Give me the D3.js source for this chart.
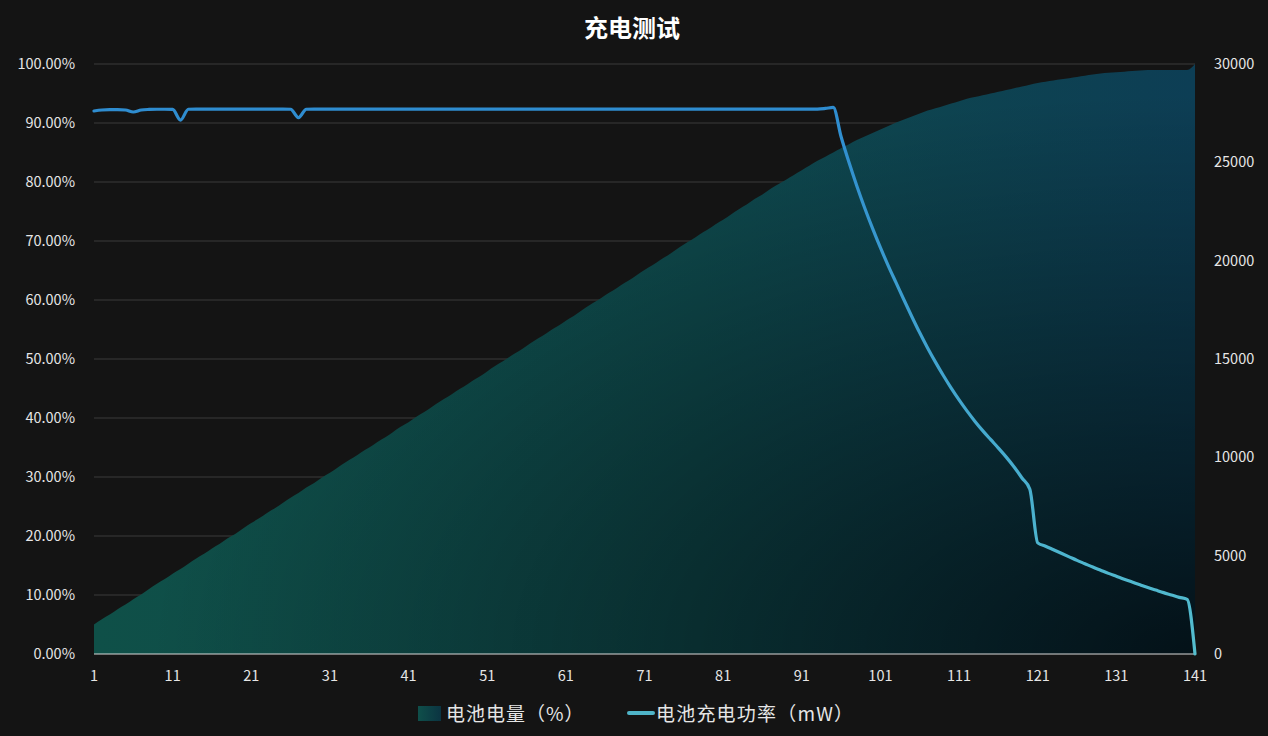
<!DOCTYPE html>
<html>
<head>
<meta charset="utf-8">
<script src="https://cdn.jsdelivr.net/npm/d3@7"></script>
<style>
  html, body { margin: 0; padding: 0; background: #141414; }
  svg { display: block; }
  text { font-family: "Noto Sans CJK SC", "Noto Sans", sans-serif; }
</style>
</head>
<body>
<svg id="chart" width="1268" height="736"></svg>
<script>
// ---------- data ----------
const title = "充电测试";
const seriesNames = ["电池电量（%）", "电池充电功率（mW）"];
const categories = d3.range(1, 142);          // x categories 1..141
const xTickLabels = [1, 11, 21, 31, 41, 51, 61, 71, 81, 91, 101, 111, 121, 131, 141];
const leftTicks = [0, 10, 20, 30, 40, 50, 60, 70, 80, 90, 100];
const rightTicks = [0, 5000, 10000, 15000, 20000, 25000, 30000];

// battery level (%) per category
const batteryLevel = [
  5.0, 5.9, 6.7, 7.6, 8.4, 9.3, 10.1, 11.0, 11.9, 12.7,
  13.6, 14.4, 15.3, 16.2, 17.0, 17.9, 18.7, 19.6, 20.4, 21.3,
  22.2, 23.0, 23.9, 24.7, 25.6, 26.5, 27.3, 28.2, 29.0, 29.9,
  30.7, 31.6, 32.5, 33.3, 34.2, 35.0, 35.9, 36.7, 37.6, 38.5,
  39.3, 40.2, 41.0, 41.9, 42.8, 43.6, 44.5, 45.3, 46.2, 47.0,
  47.9, 48.8, 49.6, 50.5, 51.3, 52.2, 53.1, 53.9, 54.8, 55.6,
  56.5, 57.3, 58.2, 59.1, 59.9, 60.8, 61.6, 62.5, 63.3, 64.2,
  65.1, 65.9, 66.8, 67.6, 68.5, 69.4, 70.2, 71.1, 71.9, 72.8,
  73.6, 74.5, 75.4, 76.2, 77.1, 77.9, 78.8, 79.6, 80.4, 81.2,
  82.0, 82.8, 83.6, 84.3, 85.0, 85.7, 86.4, 87.1, 87.7, 88.3,
  88.9, 89.5, 90.1, 90.6, 91.1, 91.6, 92.1, 92.5, 92.9, 93.3,
  93.7, 94.1, 94.4, 94.7, 95.0, 95.3, 95.6, 95.9, 96.2, 96.5,
  96.8, 97.0, 97.2, 97.4, 97.6, 97.8, 98.0, 98.2, 98.4, 98.5,
  98.6, 98.7, 98.8, 98.9, 99.0, 99.0, 99.0, 99.0, 99.0, 99.0,
  100.0
];

// charging power (mW) per category
const chargePower = [
  27610, 27660, 27680, 27680, 27660, 27560, 27660, 27690, 27700, 27700,
  27690, 27150, 27700, 27710, 27710, 27710, 27710, 27710, 27710, 27710,
  27710, 27710, 27710, 27710, 27710, 27700, 27270, 27700, 27710, 27710,
  27710, 27710, 27710, 27710, 27710, 27710, 27710, 27710, 27710, 27710,
  27710, 27710, 27710, 27710, 27710, 27710, 27710, 27710, 27710, 27710,
  27710, 27710, 27710, 27710, 27710, 27710, 27710, 27710, 27710, 27710,
  27710, 27710, 27710, 27710, 27710, 27710, 27710, 27710, 27710, 27710,
  27710, 27710, 27710, 27710, 27710, 27710, 27710, 27710, 27710, 27710,
  27710, 27710, 27710, 27710, 27710, 27710, 27710, 27710, 27710, 27710,
  27710, 27710, 27710, 27740, 27790, 26300, 25000, 23800, 22680, 21640,
  20660, 19740, 18870, 18000, 17150, 16330, 15560, 14840, 14160, 13520,
  12920, 12360, 11840, 11360, 10910, 10470, 10010, 9510, 8950, 8380,
  5650, 5480, 5300, 5120, 4940, 4760, 4590, 4420, 4260, 4100,
  3950, 3800, 3660, 3520, 3380, 3250, 3120, 3000, 2880, 2780,
  0
];

// ---------- drawing ----------
const W = 1268, H = 736;
const svg = d3.select("#chart");
svg.append("rect").attr("width", W).attr("height", H).attr("fill", "#141414");

const x = d3.scalePoint().domain(categories).range([94, 1195]);
const yL = d3.scaleLinear().domain([0, 100]).range([654, 64]);
const yR = d3.scaleLinear().domain([0, 30000]).range([654, 64]);

const defs = svg.append("defs");
const gArea = defs.append("linearGradient").attr("id", "areaGrad")
  .attr("x1", 0).attr("y1", 0).attr("x2", 1).attr("y2", 0);
gArea.append("stop").attr("offset", "0%").attr("stop-color", "#0f5048");
gArea.append("stop").attr("offset", "55%").attr("stop-color", "#0e484b");
gArea.append("stop").attr("offset", "100%").attr("stop-color", "#0d3e55");

const gShade = defs.append("radialGradient").attr("id", "areaShade")
  .attr("cx", 1).attr("cy", 1).attr("r", 0.95);
gShade.append("stop").attr("offset", "0%").attr("stop-color", "#000").attr("stop-opacity", 0.72);
gShade.append("stop").attr("offset", "100%").attr("stop-color", "#000").attr("stop-opacity", 0);

const gLine = defs.append("linearGradient").attr("id", "lineGrad")
  .attr("gradientUnits", "userSpaceOnUse")
  .attr("x1", 0).attr("y1", yR(28000)).attr("x2", 0).attr("y2", yR(0));
gLine.append("stop").attr("offset", "0%").attr("stop-color", "#2e8cd0");
gLine.append("stop").attr("offset", "100%").attr("stop-color", "#55bece");

const gLegendArea = defs.append("linearGradient").attr("id", "legArea")
  .attr("x1", 0).attr("y1", 0).attr("x2", 1).attr("y2", 0);
gLegendArea.append("stop").attr("offset", "0%").attr("stop-color", "#0f4f4a");
gLegendArea.append("stop").attr("offset", "100%").attr("stop-color", "#0b3442");

// grid lines
svg.append("g").selectAll("line").data(leftTicks.filter(d => d > 0)).join("line")
  .attr("x1", 94).attr("x2", 1195)
  .attr("y1", d => yL(d)).attr("y2", d => yL(d))
  .attr("stroke", "#3a3a3a").attr("stroke-width", 1);

// area
const area = d3.area()
  .x((d, i) => x(categories[i]))
  .y0(yL(0))
  .y1(d => yL(d))
  .curve(d3.curveMonotoneX);
svg.append("path").datum(batteryLevel).attr("d", area).attr("fill", "url(#areaGrad)");
svg.append("path").datum(batteryLevel).attr("d", area).attr("fill", "url(#areaShade)");

// x axis line
svg.append("line").attr("x1", 94).attr("x2", 1195).attr("y1", yL(0)).attr("y2", yL(0))
  .attr("stroke", "#d9d9d9").attr("stroke-width", 1);

// power line
const line = d3.line()
  .x((d, i) => x(categories[i]))
  .y(d => yR(d))
  .curve(d3.curveMonotoneX);
svg.append("path").datum(chargePower).attr("d", line)
  .attr("fill", "none").attr("stroke", "url(#lineGrad)")
  .attr("stroke-width", 3.2).attr("stroke-linejoin", "round").attr("stroke-linecap", "round");

// left axis labels
svg.append("g").selectAll("text").data(leftTicks).join("text")
  .attr("x", 75).attr("y", d => yL(d)).attr("dy", "0.35em")
  .attr("text-anchor", "end").attr("fill", "#e6e6e6").attr("font-size", 14.5)
  .text(d => d.toFixed(2) + "%");

// right axis labels
svg.append("g").selectAll("text").data(rightTicks).join("text")
  .attr("x", 1214).attr("y", d => yR(d)).attr("dy", "0.35em")
  .attr("text-anchor", "start").attr("fill", "#e6e6e6").attr("font-size", 14.5)
  .text(d => d);

// x axis labels
svg.append("g").selectAll("text").data(xTickLabels).join("text")
  .attr("x", d => x(d)).attr("y", 676).attr("dy", "0.35em")
  .attr("text-anchor", "middle").attr("fill", "#e6e6e6").attr("font-size", 14.5)
  .text(d => d);

// title
svg.append("text").attr("x", 632).attr("y", 29).attr("dy", "0.35em")
  .attr("text-anchor", "middle").attr("fill", "#ffffff").attr("font-size", 24)
  .attr("font-weight", "bold").text(title);

// legend
const leg = svg.append("g");
leg.append("rect").attr("x", 418).attr("y", 706).attr("width", 23).attr("height", 15)
  .attr("fill", "url(#legArea)");
leg.append("text").attr("x", 446).attr("y", 714).attr("dy", "0.35em")
  .attr("fill", "#e6e6e6").attr("font-size", 19).attr("letter-spacing", 1)
  .text(seriesNames[0]);
leg.append("line").attr("x1", 629).attr("x2", 653).attr("y1", 713).attr("y2", 713)
  .attr("stroke", "#4fb4c8").attr("stroke-width", 4).attr("stroke-linecap", "round");
leg.append("text").attr("x", 656).attr("y", 714).attr("dy", "0.35em")
  .attr("fill", "#e6e6e6").attr("font-size", 19).attr("letter-spacing", 1.2)
  .text(seriesNames[1]);
</script>
</body>
</html>
